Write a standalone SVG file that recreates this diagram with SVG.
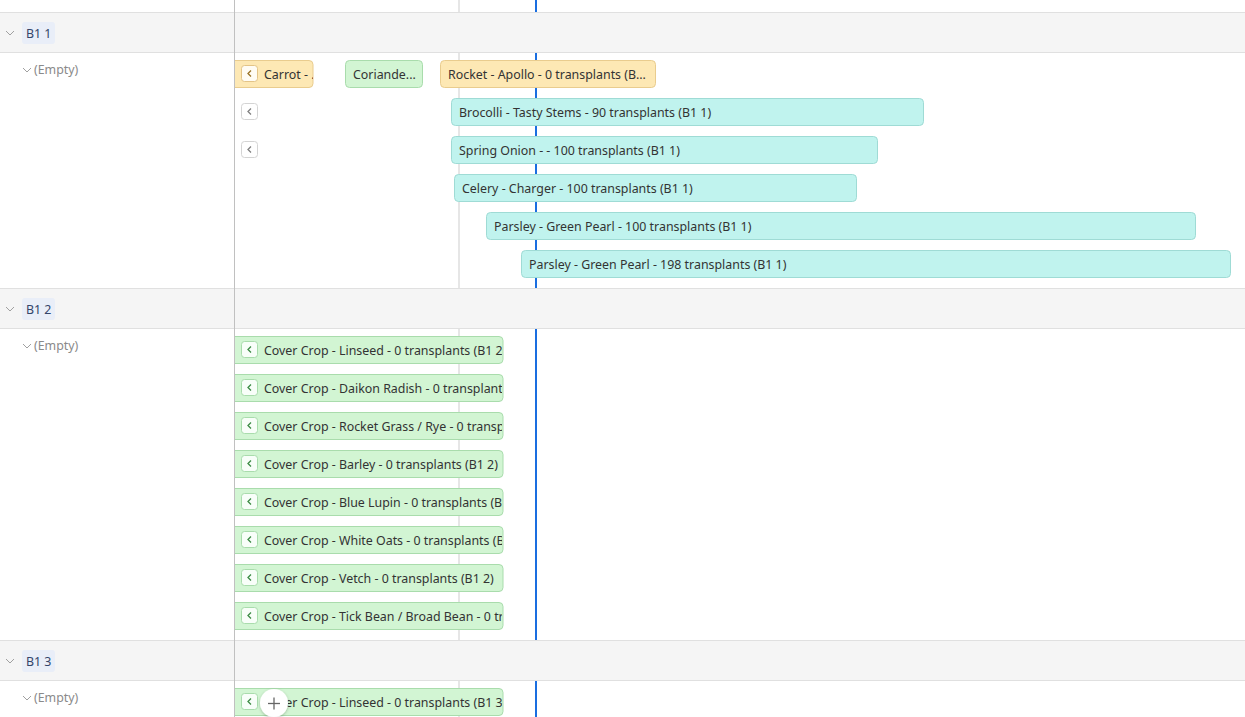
<svg xmlns="http://www.w3.org/2000/svg" width="1245" height="717" viewBox="0 0 1245 717">
<style>
  text { font-family: "Noto Sans", "Open Sans", "Liberation Sans", sans-serif; font-size: 12.4px; fill: #333; }
  .band { fill: #f5f5f5; }
  .hline { stroke: #e0e0e0; stroke-width: 1; }
  .grid { stroke: #e6e6e6; stroke-width: 2; }
  .now { stroke: #1a6ee0; stroke-width: 2; }
  .sep { stroke: #c0c0c0; stroke-width: 1; }
  .chev { fill: none; stroke: #a0a0a0; stroke-width: 1; }
  .pill { fill: #e9eef8; }
  .pilltxt { fill: #34456a; font-size: 12.4px; }
  .empty { fill: #8a8a8a; font-size: 12.4px; }
  .orange { fill: #fde8b4; stroke: #e9cc8e; stroke-width: 1; }
  .green { fill: #d2f5d3; stroke: #a9dcac; stroke-width: 1; }
  .cyan { fill: #c0f3ee; stroke: #9fdbd5; stroke-width: 1; }
  .btn { fill: #ffffff; fill-opacity: 0.85; stroke-width: 1; }
  .btn-o { stroke: #e3c487; }
  .btn-g { stroke: #a9dcac; }
  .btn-w { fill: #ffffff; stroke: #d4d4d4; }
  .bc-o { fill: none; stroke: #9a7326; stroke-width: 1.3; }
  .bc-g { fill: none; stroke: #3d8b45; stroke-width: 1.3; }
  .bc-w { fill: none; stroke: #808080; stroke-width: 1.3; }
</style>
<defs>
  <clipPath id="tl"><rect x="235" y="0" width="1010" height="717"/></clipPath>
  <clipPath id="carrotClip"><rect x="235" y="55" width="78" height="40"/></clipPath>
  <clipPath id="ccClip"><rect x="235" y="330" width="267" height="387"/></clipPath>
  <filter id="sh" x="-50%" y="-50%" width="200%" height="200%">
    <feDropShadow dx="0" dy="1" stdDeviation="1.5" flood-color="#000" flood-opacity="0.25"/>
  </filter>
</defs>

<rect x="0" y="0" width="1245" height="717" fill="#ffffff"/>

<!-- header bands -->
<g id="bands">
  <rect class="band" x="0" y="13" width="1245" height="39"/>
  <rect class="band" x="0" y="289" width="1245" height="39"/>
  <rect class="band" x="0" y="641" width="1245" height="39"/>
  <line class="hline" x1="0" y1="12.5" x2="1245" y2="12.5"/>
  <line class="hline" x1="0" y1="52.5" x2="1245" y2="52.5"/>
  <line class="hline" x1="0" y1="288.5" x2="1245" y2="288.5"/>
  <line class="hline" x1="0" y1="328.5" x2="1245" y2="328.5"/>
  <line class="hline" x1="0" y1="640.5" x2="1245" y2="640.5"/>
  <line class="hline" x1="0" y1="680.5" x2="1245" y2="680.5"/>
</g>

<!-- grid + today line -->
<g id="gridlines">
  <line class="grid" x1="459" y1="0" x2="459" y2="12"/>
  <line class="grid" x1="459" y1="53" x2="459" y2="288"/>
  <line class="grid" x1="459" y1="329" x2="459" y2="640"/>
  <line class="grid" x1="459" y1="681" x2="459" y2="717"/>
  <line class="now" x1="536" y1="0" x2="536" y2="12"/>
  <line class="now" x1="536" y1="53" x2="536" y2="288"/>
  <line class="now" x1="536" y1="329" x2="536" y2="640"/>
  <line class="now" x1="536" y1="681" x2="536" y2="717"/>
</g>

<!-- group headers -->
<g id="group-b1-1">
  <polyline class="chev" points="6,31 10,35 14,31"/>
  <rect class="pill" x="22" y="22" width="33" height="22" rx="3"/>
  <text class="pilltxt" x="26" y="37.5">B1 1</text>
  <polyline class="chev" points="23,68 27,72 31,68"/>
  <text class="empty" x="34" y="74">(Empty)</text>
</g>
<g id="group-b1-2">
  <polyline class="chev" points="6,307 10,311 14,307"/>
  <rect class="pill" x="22" y="298" width="33" height="22" rx="3"/>
  <text class="pilltxt" x="26" y="313.5">B1 2</text>
  <polyline class="chev" points="23,344 27,348 31,344"/>
  <text class="empty" x="34" y="350">(Empty)</text>
</g>
<g id="group-b1-3">
  <polyline class="chev" points="6,659 10,663 14,659"/>
  <rect class="pill" x="22" y="650" width="33" height="22" rx="3"/>
  <text class="pilltxt" x="26" y="665.5">B1 3</text>
  <polyline class="chev" points="23,696 27,700 31,696"/>
  <text class="empty" x="34" y="702">(Empty)</text>
</g>

<!-- B1 1 bars -->
<g clip-path="url(#tl)">
  <g id="bar-carrot">
    <rect class="orange" x="226" y="60.5" width="87" height="27" rx="4"/>
    <rect class="btn btn-o" x="241.5" y="65.5" width="16" height="16" rx="3"/>
    <polyline class="bc-o" points="251,70.5 248,73.5 251,76.5"/>
    <text x="264" y="78.5" clip-path="url(#carrotClip)">Carrot - .</text>
  </g>
  <g id="bar-coriander">
    <rect class="green" x="345.5" y="60.5" width="77" height="27" rx="4"/>
    <text x="353" y="78.5">Coriande...</text>
  </g>
  <g id="bar-rocket">
    <rect class="orange" x="440.5" y="60.5" width="215" height="27" rx="4"/>
    <text x="448" y="78.5">Rocket - Apollo - 0 transplants (B...</text>
  </g>
  <g id="btn-row2">
    <rect class="btn-w" x="241.5" y="103.5" width="16" height="16" rx="3"/>
    <polyline class="bc-w" points="251,108.5 248,111.5 251,114.5"/>
  </g>
  <g id="bar-brocolli">
    <rect class="cyan" x="451.5" y="98.5" width="472" height="27" rx="4"/>
    <text x="459" y="116.5">Brocolli - Tasty Stems - 90 transplants (B1 1)</text>
  </g>
  <g id="btn-row3">
    <rect class="btn-w" x="241.5" y="141.5" width="16" height="16" rx="3"/>
    <polyline class="bc-w" points="251,146.5 248,149.5 251,152.5"/>
  </g>
  <g id="bar-spring-onion">
    <rect class="cyan" x="451.5" y="136.5" width="426" height="27" rx="4"/>
    <text x="459" y="154.5">Spring Onion - - 100 transplants (B1 1)</text>
  </g>
  <g id="bar-celery">
    <rect class="cyan" x="454.5" y="174.5" width="402" height="27" rx="4"/>
    <text x="462" y="192.5">Celery - Charger - 100 transplants (B1 1)</text>
  </g>
  <g id="bar-parsley-100">
    <rect class="cyan" x="486.5" y="212.5" width="709" height="27" rx="4"/>
    <text x="494" y="230.5">Parsley - Green Pearl - 100 transplants (B1 1)</text>
  </g>
  <g id="bar-parsley-198">
    <rect class="cyan" x="521.5" y="250.5" width="709" height="27" rx="4"/>
    <text x="529" y="268.5">Parsley - Green Pearl - 198 transplants (B1 1)</text>
  </g>

  <!-- B1 2 bars -->
  <g id="bar-cc-linseed">
    <rect class="green" x="226" y="336.5" width="277" height="27" rx="4"/>
    <rect class="btn btn-g" x="241.5" y="341.5" width="16" height="16" rx="3"/>
    <polyline class="bc-g" points="251,346.5 248,349.5 251,352.5"/>
    <text x="264" y="354.5" clip-path="url(#ccClip)">Cover Crop - Linseed - 0 transplants (B1 2)</text>
  </g>
  <g id="bar-cc-daikon">
    <rect class="green" x="226" y="374.5" width="277" height="27" rx="4"/>
    <rect class="btn btn-g" x="241.5" y="379.5" width="16" height="16" rx="3"/>
    <polyline class="bc-g" points="251,384.5 248,387.5 251,390.5"/>
    <text x="264" y="392.5" clip-path="url(#ccClip)">Cover Crop - Daikon Radish - 0 transplant</text>
  </g>
  <g id="bar-cc-rocket-grass">
    <rect class="green" x="226" y="412.5" width="277" height="27" rx="4"/>
    <rect class="btn btn-g" x="241.5" y="417.5" width="16" height="16" rx="3"/>
    <polyline class="bc-g" points="251,422.5 248,425.5 251,428.5"/>
    <text x="264" y="430.5" clip-path="url(#ccClip)">Cover Crop - Rocket Grass / Rye - 0 transp</text>
  </g>
  <g id="bar-cc-barley">
    <rect class="green" x="226" y="450.5" width="277" height="27" rx="4"/>
    <rect class="btn btn-g" x="241.5" y="455.5" width="16" height="16" rx="3"/>
    <polyline class="bc-g" points="251,460.5 248,463.5 251,466.5"/>
    <text x="264" y="468.5" clip-path="url(#ccClip)">Cover Crop - Barley - 0 transplants (B1 2)</text>
  </g>
  <g id="bar-cc-blue-lupin">
    <rect class="green" x="226" y="488.5" width="277" height="27" rx="4"/>
    <rect class="btn btn-g" x="241.5" y="493.5" width="16" height="16" rx="3"/>
    <polyline class="bc-g" points="251,498.5 248,501.5 251,504.5"/>
    <text x="264" y="506.5" clip-path="url(#ccClip)">Cover Crop - Blue Lupin - 0 transplants (B</text>
  </g>
  <g id="bar-cc-white-oats">
    <rect class="green" x="226" y="526.5" width="277" height="27" rx="4"/>
    <rect class="btn btn-g" x="241.5" y="531.5" width="16" height="16" rx="3"/>
    <polyline class="bc-g" points="251,536.5 248,539.5 251,542.5"/>
    <text x="264" y="544.5" clip-path="url(#ccClip)">Cover Crop - White Oats - 0 transplants (B</text>
  </g>
  <g id="bar-cc-vetch">
    <rect class="green" x="226" y="564.5" width="277" height="27" rx="4"/>
    <rect class="btn btn-g" x="241.5" y="569.5" width="16" height="16" rx="3"/>
    <polyline class="bc-g" points="251,574.5 248,577.5 251,580.5"/>
    <text x="264" y="582.5" clip-path="url(#ccClip)">Cover Crop - Vetch - 0 transplants (B1 2)</text>
  </g>
  <g id="bar-cc-tick-bean">
    <rect class="green" x="226" y="602.5" width="277" height="27" rx="4"/>
    <rect class="btn btn-g" x="241.5" y="607.5" width="16" height="16" rx="3"/>
    <polyline class="bc-g" points="251,612.5 248,615.5 251,618.5"/>
    <text x="264" y="620.5" clip-path="url(#ccClip)">Cover Crop - Tick Bean / Broad Bean - 0 tr</text>
  </g>

  <!-- B1 3 bar -->
  <g id="bar-cc-linseed-b13">
    <rect class="green" x="226" y="688.5" width="277" height="27" rx="4"/>
    <rect class="btn btn-g" x="241.5" y="693.5" width="16" height="16" rx="3"/>
    <polyline class="bc-g" points="251,698.5 248,701.5 251,704.5"/>
    <text x="264" y="706.5" clip-path="url(#ccClip)">Cover Crop - Linseed - 0 transplants (B1 3)</text>
  </g>
</g>

<!-- left panel separator -->
<line class="sep" x1="234.5" y1="0" x2="234.5" y2="717"/>

<!-- add button -->
<g id="add-button">
  <circle cx="274" cy="703" r="14" fill="#ffffff" filter="url(#sh)"/>
  <line x1="268" y1="703.5" x2="280" y2="703.5" stroke="#666" stroke-width="1.3"/>
  <line x1="274" y1="697.5" x2="274" y2="709.5" stroke="#666" stroke-width="1.3"/>
</g>
</svg>
